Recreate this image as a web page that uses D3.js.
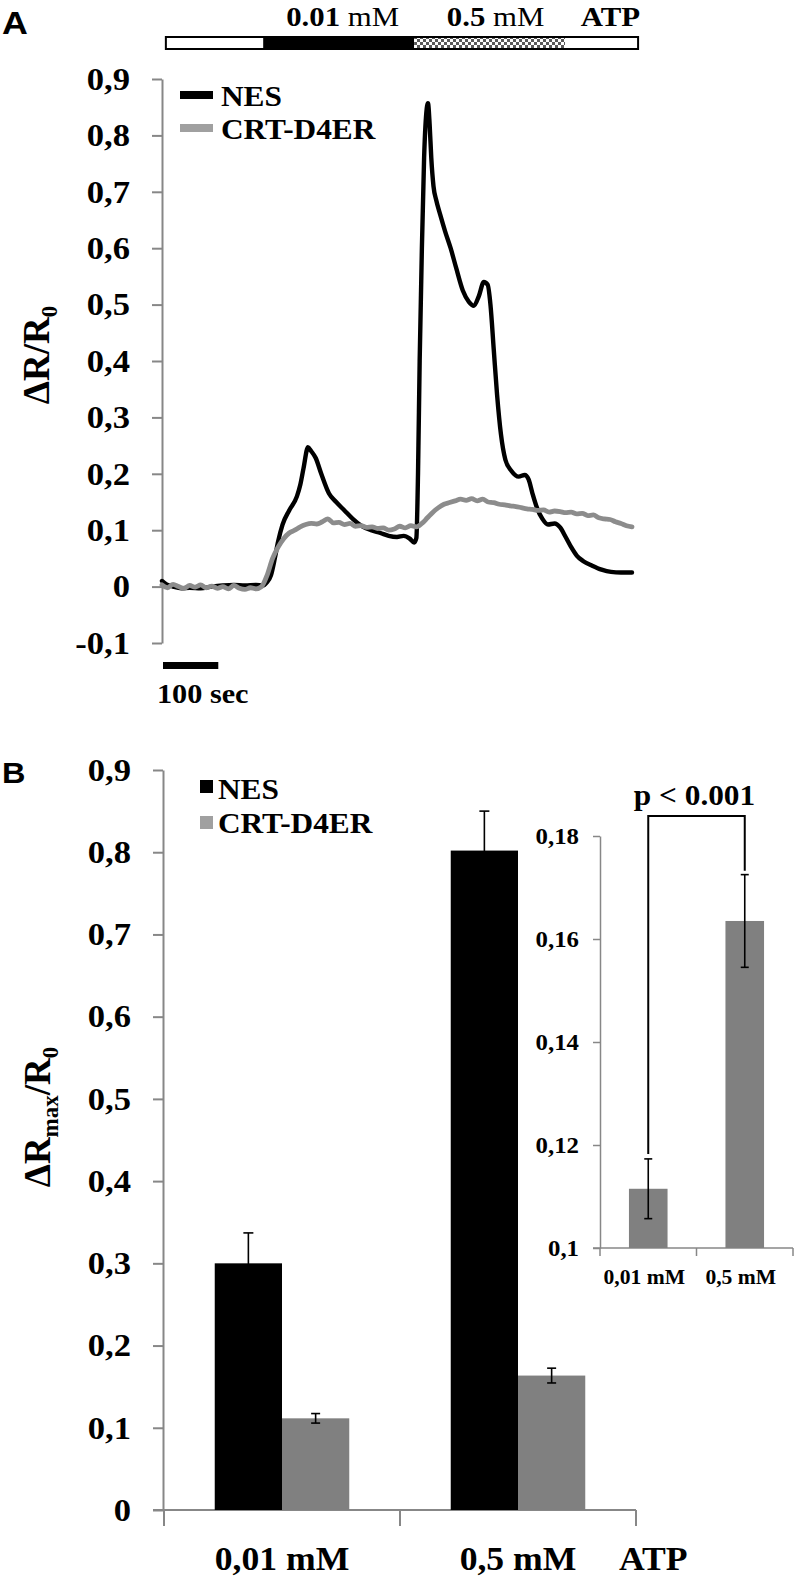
<!DOCTYPE html>
<html><head><meta charset="utf-8">
<script src="https://cdn.jsdelivr.net/npm/d3@7"></script>
<style>
body{margin:0;background:#fff}
svg{display:block}
text{font-family:"Liberation Serif","Times New Roman",serif;font-weight:bold;fill:#000}
</style>
</head><body>
<svg id="c" width="797" height="1579"></svg>
<script>
// ---------------- DATA ----------------
// Panel A: time course (seconds, ΔR/R0)
const nesTime  = [0,8,20,35,50,70,90,110,130,150,170,182,190,197,204,210,218,230,244,250,256,264,270,278,288,302,315,330,345,360,378,395,410,425,437,448,456,460,463,466,470,474,478,481,484,487,491,496,503,512,522,532,544,555,564,573,582,589,594,600,606,613,621,632,645,656,663,670,678,688,698,710,720,730,740,750,762,778,795,812,830,850];
const nesValue = [0.010,0.004,0.000,-0.003,-0.002,-0.003,0.000,0.002,0.003,0.002,0.003,0.002,0.008,0.020,0.050,0.080,0.110,0.135,0.160,0.180,0.210,0.247,0.240,0.228,0.200,0.165,0.150,0.135,0.120,0.108,0.100,0.095,0.090,0.088,0.090,0.085,0.078,0.086,0.200,0.400,0.600,0.760,0.840,0.857,0.820,0.760,0.710,0.685,0.660,0.630,0.600,0.565,0.525,0.505,0.498,0.515,0.540,0.535,0.500,0.420,0.340,0.270,0.225,0.205,0.195,0.198,0.190,0.165,0.140,0.120,0.110,0.112,0.105,0.088,0.070,0.055,0.045,0.037,0.030,0.026,0.025,0.025];
const crtTime  = [0,10,20,30,40,50,60,70,80,90,100,110,120,130,140,150,160,170,180,190,200,210,220,230,240,250,260,270,280,290,300,310,320,330,340,350,360,370,380,390,400,410,420,430,440,450,460,470,480,490,500,510,520,530,540,550,560,570,580,590,600,610,620,630,640,650,660,670,680,690,700,710,720,730,740,750,760,770,780,790,800,810,820,830,840,850];
const crtValue = [0.003,-0.002,0.004,0.000,-0.003,0.002,-0.001,0.003,-0.002,0.001,-0.003,0.000,-0.004,0.002,-0.003,-0.005,-0.002,-0.004,0.000,0.020,0.050,0.070,0.085,0.095,0.100,0.106,0.110,0.112,0.111,0.115,0.120,0.113,0.114,0.110,0.112,0.107,0.108,0.105,0.106,0.103,0.104,0.100,0.102,0.107,0.104,0.108,0.106,0.112,0.122,0.132,0.140,0.146,0.149,0.152,0.155,0.153,0.156,0.152,0.155,0.150,0.149,0.146,0.145,0.143,0.142,0.140,0.138,0.137,0.135,0.136,0.132,0.134,0.133,0.131,0.132,0.129,0.130,0.126,0.127,0.122,0.120,0.119,0.115,0.112,0.108,0.106];
const seriesNames = ["NES","CRT-D4ER"];
const stimEdges = [7,183,456,729,861];          // seconds: segment boundaries of the ATP bar
const stimLabelsBold = ["0.01","0.5"];
const ticksA = [-0.1,0,0.1,0.2,0.3,0.4,0.5,0.6,0.7,0.8,0.9];
const scaleBarSec = 100;

// Panel B: maximal responses
const categories = ["0,01 mM","0,5 mM"];
const nesMax = [0.300,0.802];
const nesErr = [0.037,0.048];
const crtMax = [0.1115,0.1635];
const crtErr = [0.0058,0.009];
const ticksB = [0,0.1,0.2,0.3,0.4,0.5,0.6,0.7,0.8,0.9];
const ticksInset = [0.1,0.12,0.14,0.16,0.18];
const pLabel = "p < 0.001";

// ---------------- DRAW ----------------
const SX = 1.08; // horizontal stretch of the original typography
const svg = d3.select("#c");
const AXC = "#878787";
const BLACK = "#000", GRAY = "#808080", GRAYLINE = "#8c8c8c", GRAYLEG = "#a0a0a0";

function txt(g, x, y, parts, size, anchor, sx) {
  const t = g.append("text")
    .attr("transform", `translate(${x},${y}) scale(${sx==null?SX:sx},1)`)
    .attr("text-anchor", anchor || "start")
    .style("font-size", size + "px");
  parts.forEach(p => {
    const ts = t.append("tspan").text(p.t);
    if (p.w) ts.style("font-weight", p.w);
    if (p.s) ts.style("font-size", p.s + "px");
    if (p.dy != null) ts.attr("dy", p.dy);
  });
  return t;
}
const commaFmt = f => d => d3.format(f)(d).replace(".", ",").replace("\u2212", "-");

function styleAxis(g, size) {
  g.select(".domain").attr("stroke", AXC).attr("stroke-width", 2);
  g.selectAll(".tick line").attr("stroke", AXC).attr("stroke-width", 2);
  g.selectAll(".tick text").each(function () {
    const s = d3.select(this);
    const x = +s.attr("x");
    s.attr("x", 0).attr("transform", `translate(${x},0) scale(${SX},1)`)
      .attr("fill", "#000").style("font-size", size + "px")
      .style("font-family", '"Liberation Serif","Times New Roman",serif').style("font-weight", "bold");
  });
}

// panel letters
svg.append("text").attr("transform","translate(2,34) scale(1.12,1)").style("font-family","'Liberation Sans',Arial,sans-serif").style("font-size","32px").text("A");
svg.append("text").attr("transform","translate(2,783) scale(1.12,1)").style("font-family","'Liberation Sans',Arial,sans-serif").style("font-size","29px").text("B");

// ===== Panel A =====
const xA = d3.scaleLinear().domain([0, 850]).range([162, 632]);
const yA = d3.scaleLinear().domain([-0.1, 0.9]).range([643, 79]);

// stimulus bar
const defs = svg.append("defs");
const pat = defs.append("pattern").attr("id","chk").attr("width",6).attr("height",6).attr("patternUnits","userSpaceOnUse");
pat.append("rect").attr("width",6).attr("height",6).attr("fill","#fff");
pat.append("rect").attr("width",3).attr("height",3).attr("fill","#5a5a5a");
pat.append("rect").attr("x",3).attr("y",3).attr("width",3).attr("height",3).attr("fill","#5a5a5a");
const segFill = ["#fff","#000","url(#chk)","#fff"];
const barTop = 37, barH = 12;
svg.append("g").selectAll("rect").data(d3.pairs(stimEdges)).join("rect")
  .attr("x", d => xA(d[0])).attr("width", d => xA(d[1]) - xA(d[0]))
  .attr("y", barTop).attr("height", barH).attr("fill", (d,i) => segFill[i]);
svg.append("rect").attr("x", xA(stimEdges[0])).attr("y", barTop)
  .attr("width", xA(stimEdges[4]) - xA(stimEdges[0])).attr("height", barH)
  .attr("fill","none").attr("stroke","#000").attr("stroke-width",2);
txt(svg, (xA(stimEdges[1]) + xA(stimEdges[2]))/2 + 4, 26, [{t:stimLabelsBold[0]},{t:" mM", w:"normal"}], 28, "middle", 1.1);
txt(svg, (xA(stimEdges[2]) + xA(stimEdges[3]))/2 + 6, 26, [{t:stimLabelsBold[1]},{t:" mM", w:"normal"}], 28, "middle", 1.1);
txt(svg, xA(stimEdges[4]) + 2, 26, [{t:"ATP"}], 28, "end", 1.1);

// y axis
const axA = svg.append("g").attr("transform", `translate(${xA(0)},0)`)
  .call(d3.axisLeft(yA).tickValues(ticksA).tickSize(10).tickSizeOuter(0).tickPadding(22).tickFormat(commaFmt(".1~f")));
styleAxis(axA, 32);

// y label
svg.append("text").attr("transform","translate(49,355) rotate(-90)").attr("text-anchor","middle").style("font-size","37px")
  .call(t => { t.append("tspan").text("\u0394R/R"); t.append("tspan").text("0").style("font-size","23px").attr("dy",8); });

// lines
const lineA = d3.line().x(d => xA(d[0])).y(d => yA(d[1])).curve(d3.curveMonotoneX);
const nesPts = nesTime.map((t,i) => [t, nesValue[i]]);
const crtPts = crtTime.map((t,i) => [t, crtValue[i]]);
svg.append("path").datum(nesPts).attr("d", lineA).attr("fill","none").attr("stroke",BLACK).attr("stroke-width",4.4).attr("stroke-linejoin","round").attr("stroke-linecap","round");
svg.append("path").datum(crtPts).attr("d", lineA).attr("fill","none").attr("stroke",GRAYLINE).attr("stroke-width",4.8).attr("stroke-linejoin","round").attr("stroke-linecap","round");

// legend A
const legA = svg.append("g");
[[BLACK,95,106],[GRAYLEG,128,139]].forEach((c,i) => {
  legA.append("line").attr("x1",180).attr("x2",213).attr("y1",c[1]).attr("y2",c[1]).attr("stroke",c[0]).attr("stroke-width",8);
  txt(legA, 221, c[2], [{t:seriesNames[i]}], 29, "start");
});

// scale bar
svg.append("rect").attr("x", xA(0)+1).attr("y", 662).attr("width", xA(scaleBarSec) - xA(0)).attr("height", 7).attr("fill","#000");
txt(svg, 157, 703, [{t:scaleBarSec + " sec"}], 28, "start");

// ===== Panel B =====
const yB = d3.scaleLinear().domain([0, 0.9]).range([1510, 770]);
const xB = d3.scaleBand().domain(categories).range([164, 636]);
const bw = xB.bandwidth(), barW = bw * 0.285;

const axB = svg.append("g").attr("transform","translate(163,0)")
  .call(d3.axisLeft(yB).tickValues(ticksB).tickSize(10).tickSizeOuter(0).tickPadding(22).tickFormat(commaFmt(".1~f")));
styleAxis(axB, 32);
// x axis line & boundary ticks
const xAxisB = svg.append("g");
xAxisB.append("line").attr("x1",153).attr("x2",xB.range()[1]).attr("y1",yB(0)).attr("y2",yB(0)).attr("stroke",AXC).attr("stroke-width",2);
const bounds = categories.map(c => xB(c)).concat([xB.range()[1]]);
xAxisB.selectAll("line.b").data(bounds).join("line").attr("class","b")
  .attr("x1",d=>d).attr("x2",d=>d).attr("y1",yB(0)).attr("y2",yB(0)+16).attr("stroke",AXC).attr("stroke-width",2);
categories.forEach(c => txt(svg, xB(c) + bw/2, 1570, [{t:c}], 33, "middle"));
txt(svg, 619, 1570, [{t:"ATP"}], 33, "start");

// bars
const gB = svg.append("g");
categories.forEach((c,i) => {
  const cx = xB(c) + bw/2;
  gB.append("rect").attr("x", cx - barW).attr("width", barW).attr("y", yB(nesMax[i])).attr("height", yB(0) - yB(nesMax[i])).attr("fill", BLACK);
  gB.append("rect").attr("x", cx).attr("width", barW).attr("y", yB(crtMax[i])).attr("height", yB(0) - yB(crtMax[i])).attr("fill", GRAY);
});
function errBar(g, x, y, v, e, cap) {
  g.append("line").attr("x1",x).attr("x2",x).attr("y1",y(v-e)).attr("y2",y(v+e)).attr("stroke","#000").attr("stroke-width",1.6);
  [v-e, v+e].forEach(k => g.append("line").attr("x1",x-cap/2).attr("x2",x+cap/2).attr("y1",y(k)).attr("y2",y(k)).attr("stroke","#000").attr("stroke-width",1.6));
}
categories.forEach((c,i) => {
  const cx = xB(c) + bw/2;
  errBar(gB, cx - barW/2, yB, nesMax[i], nesErr[i], 10);
  errBar(gB, cx + barW/2, yB, crtMax[i], crtErr[i], 9);
});

// y label B
svg.append("text").attr("transform","translate(50,1117) rotate(-90)").attr("text-anchor","middle").style("font-size","37px")
  .call(t => {
    t.append("tspan").text("\u0394R");
    t.append("tspan").text("max").style("font-size","23px").attr("dy",8);
    t.append("tspan").text("/R").attr("dy",-8);
    t.append("tspan").text("0").style("font-size","23px").attr("dy",8);
  });

// legend B
const legB = svg.append("g");
[[BLACK,780,799],[GRAYLEG,816,833]].forEach((c,i) => {
  legB.append("rect").attr("x",200).attr("y",c[1]).attr("width",13).attr("height",13).attr("fill",c[0]);
  txt(legB, 218, c[2], [{t:seriesNames[i]}], 29, "start");
});

// ===== Inset =====
const yI = d3.scaleLinear().domain([0.1, 0.18]).range([1248, 836]);
const xI = d3.scaleBand().domain(categories).range([600, 793]);
const bwI = xI.bandwidth(), barWI = bwI * 0.4;
const axI = svg.append("g").attr("transform","translate(600,0)")
  .call(d3.axisLeft(yI).tickValues(ticksInset).tickSize(7).tickSizeOuter(0).tickPadding(14).tickFormat(commaFmt(".2~f")));
styleAxis(axI, 23);
axI.select(".domain").attr("stroke-width",1.5);
axI.selectAll(".tick line").attr("stroke-width",1.5);
const xAxisI = svg.append("g");
xAxisI.append("line").attr("x1",593).attr("x2",xI.range()[1]).attr("y1",yI(0.1)).attr("y2",yI(0.1)).attr("stroke",AXC).attr("stroke-width",1.5);
const boundsI = categories.map(c => xI(c)).concat([xI.range()[1]]);
xAxisI.selectAll("line.b").data(boundsI).join("line").attr("class","b")
  .attr("x1",d=>d).attr("x2",d=>d).attr("y1",yI(0.1)).attr("y2",yI(0.1)+8).attr("stroke",AXC).attr("stroke-width",1.5);
categories.forEach(c => txt(svg, xI(c) + bwI/2 - 4, 1284, [{t:c}], 20, "middle"));
const gI = svg.append("g");
categories.forEach((c,i) => {
  const cx = xI(c) + bwI/2;
  gI.append("rect").attr("x", cx - barWI/2).attr("width", barWI).attr("y", yI(crtMax[i])).attr("height", yI(0.1) - yI(crtMax[i])).attr("fill", GRAY);
  errBar(gI, cx, yI, crtMax[i], crtErr[i], 8);
});
// significance bracket
const bx1 = xI(categories[0]) + bwI/2, bx2 = xI(categories[1]) + bwI/2;
const bTop = yI(0.1839);
svg.append("path")
  .attr("d", `M${bx1},${yI(crtMax[0]+crtErr[0]) - 5}V${bTop}H${bx2}V${yI(crtMax[1]+crtErr[1]) - 4}`)
  .attr("fill","none").attr("stroke","#000").attr("stroke-width",2);
txt(svg, (bx1 + bx2)/2 - 2, 805, [{t:pLabel}], 29, "middle");
</script>
</body></html>
